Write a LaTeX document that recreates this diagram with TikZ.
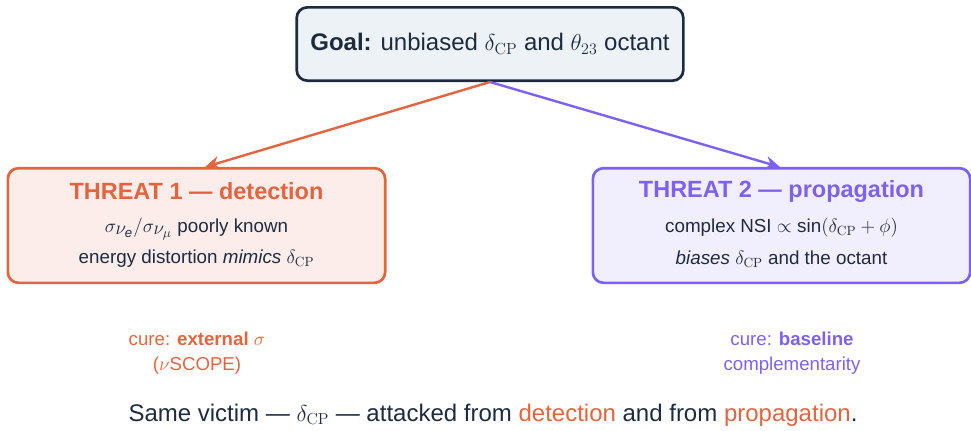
\documentclass[tikz,border=0pt]{standalone}
\usepackage{amsmath}
\usepackage[no-math]{fontspec}
\setmainfont{Liberation Sans}
\setsansfont{Liberation Sans}
\usetikzlibrary{arrows.meta}
\definecolor{navy}{HTML}{1E2B3F}
\definecolor{goalfill}{HTML}{EDF2F7}
\definecolor{orng}{HTML}{E2653F}
\definecolor{orngfill}{HTML}{FDEDEA}
\definecolor{purp}{HTML}{7D62F2}
\definecolor{purpfill}{HTML}{F1EEFE}
\newcommand{\dcp}{\ensuremath{\delta_{\mathrm{CP}}}}
\tikzset{
  box/.style={rounded corners=8pt, line width=2pt},
  goalbox/.style={box, draw=navy, fill=goalfill, minimum width=290pt, minimum height=55pt},
  threatbox/.style={box, minimum width=283pt, minimum height=86pt},
  link/.style={line width=1.8pt, -{Stealth[length=11pt,width=10pt]}},
  ttl/.style={font=\fontsize{17.6}{20}\selectfont\bfseries},
  body/.style={font=\fontsize{14.1}{17}\selectfont, text=navy},
  cure/.style={font=\fontsize{14}{17}\selectfont},
}
\begin{document}
\begin{tikzpicture}[x=0.75pt,y=-0.75pt]
\useasboundingbox (0,0) rectangle (971,430);
% goal
\node[goalbox] (goal) at (490,44) {};
\node[font=\fontsize{18}{21}\selectfont, text=navy] (goaltxt) at (490,44)
  {\textbf{Goal:} unbiased \dcp{} and $\theta_{23}$ octant};
% threats
\node[threatbox, draw=orng, fill=orngfill] (t1) at (196.5,225.5) {};
\node[threatbox, draw=purp, fill=purpfill] (t2) at (781.5,225.5) {};
\node[ttl, text=orng] (t1title) at (196.5,191) {THREAT 1 — detection};
\node[body] (t1a) at (196.5,229)
  {$\sigma_{\textstyle\nu_{\scriptstyle\textit{e}}}/\sigma_{\textstyle\nu_{\scriptstyle\mu}}$ poorly known};
\node[body] (t1b) at (196.5,259) {energy distortion \textit{mimics} \dcp};
\node[ttl, text=purp] (t2title) at (781.5,191) {THREAT 2 — propagation};
\node[body] (t2a) at (781.5,228) {complex NSI $\propto \text{sin}(\delta_{\mathrm{CP}}+\phi)$};
\node[body] (t2b) at (781.5,259) {\textit{biases} \dcp{} and the octant};
% connectors
\coordinate (gb) at (490,82);
\draw[link, draw=orng, fill=orng] (gb) -- (205,167);
\draw[link, draw=purp, fill=purp] (gb) -- (780,167);
% cures
\node[cure, text=orng] (c1a) at (197,339) {cure: \textbf{external} $\sigma$};
\node[cure, text=orng] (c1b) at (197,366) {($\nu$SCOPE)};
\node[cure, text=purp] (c2a) at (792,339) {cure: \textbf{baseline}};
\node[cure, text=purp] (c2b) at (792,366) {complementarity};
% summary
\node[font=\fontsize{18}{21}\selectfont, text=navy] (sum) at (493,415)
  {Same victim — \dcp{} — attacked from \textcolor{orng}{detection} and from \textcolor{orng}{propagation}.};
\end{tikzpicture}
\end{document}
